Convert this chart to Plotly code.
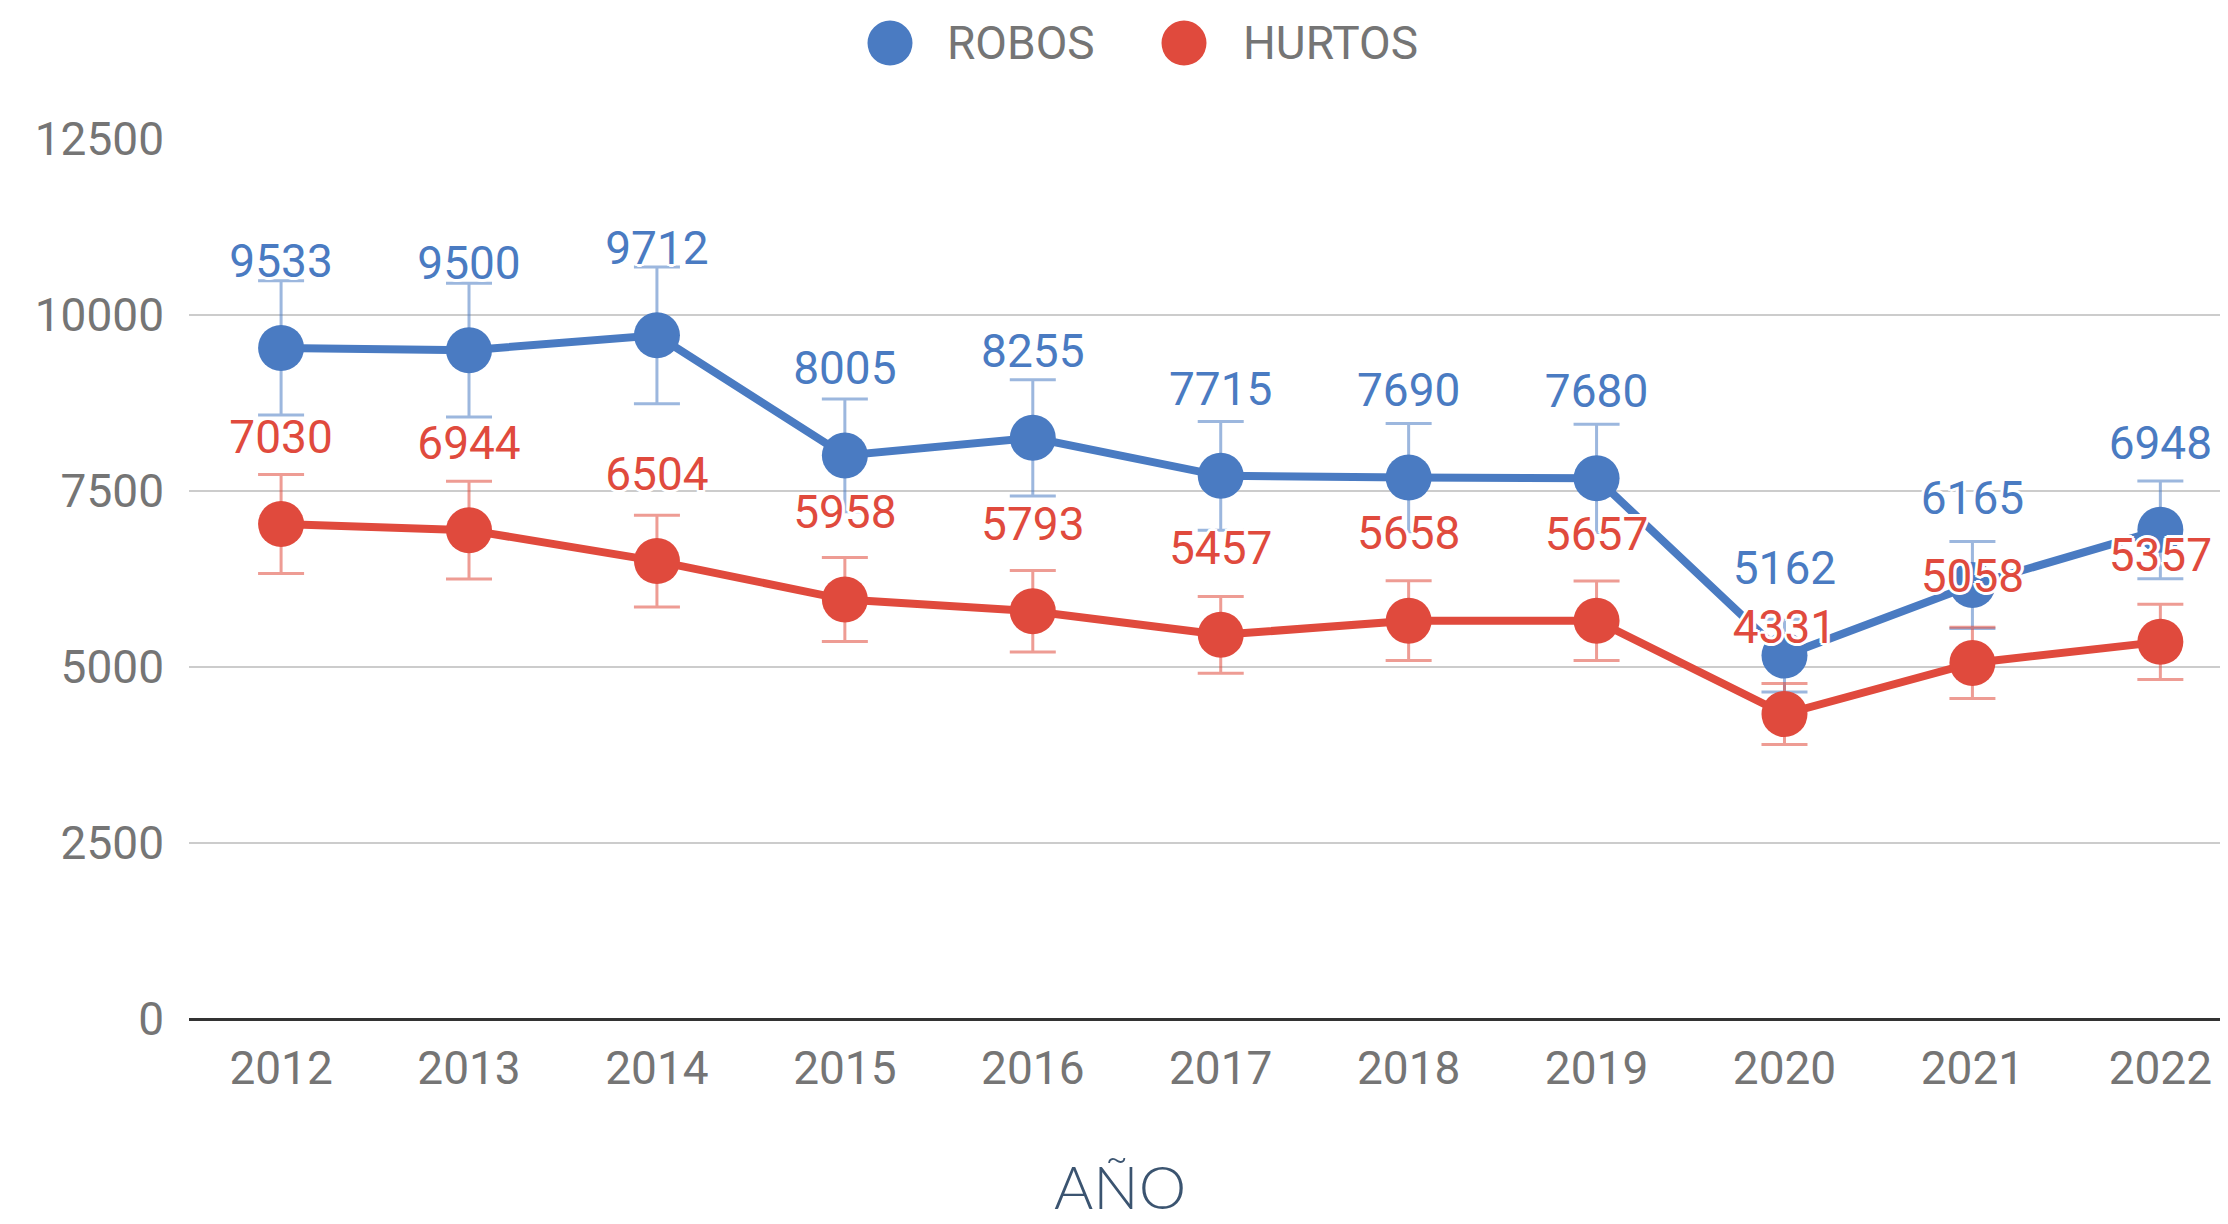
import plotly.graph_objects as go

years = ["2012", "2013", "2014", "2015", "2016", "2017", "2018", "2019", "2020", "2021", "2022"]
robos = [9533, 9500, 9712, 8005, 8255, 7715, 7690, 7680, 5162, 6165, 6948]
hurtos = [7030, 6944, 6504, 5958, 5793, 5457, 5658, 5657, 4331, 5058, 5357]
error_pct = 10
y_ticks = [0, 2500, 5000, 7500, 10000, 12500]

BLUE = "#4a7bc2"
RED = "#e04a3d"
BLUE_ERR = "rgba(74,123,194,0.55)"
RED_ERR = "rgba(224,74,61,0.55)"
GRAY = "#757575"
HALO = ("-2px -2px 0 #fff, 2px -2px 0 #fff, -2px 2px 0 #fff, 2px 2px 0 #fff, "
        "0 -3px 0 #fff, 0 3px 0 #fff, -3px 0 0 #fff, 3px 0 0 #fff")

fig = go.Figure()
for name, vals, col, ecol in [("ROBOS", robos, BLUE, BLUE_ERR), ("HURTOS", hurtos, RED, RED_ERR)]:
    fig.add_trace(go.Scatter(
        x=years, y=vals, name=name, mode="lines+markers",
        line=dict(color=col, width=8),
        marker=dict(color=col, size=46),
        error_y=dict(type="percent", value=error_pct, color=ecol, thickness=3, width=23),
        cliponaxis=False, showlegend=False,
    ))

# value labels (invisible spacer marker sets the label offset above the point)
for vals, col in [(robos, BLUE), (hurtos, RED)]:
    fig.add_trace(go.Scatter(
        x=years, y=vals,
        mode="markers+text", text=[str(v) for v in vals], textposition="top center",
        marker=dict(size=94, opacity=0, color=col),
        textfont=dict(family="Roboto", size=46, color=col, shadow=HALO),
        cliponaxis=False, showlegend=False, hoverinfo="skip",
    ))

# legend (drawn manually for large circular swatches)
W = 2039.0
def px(x):
    return (x - 189) / W
legend_y = 1.109
for cx, tx, col, label in [(890, 945, BLUE, "ROBOS"), (1184, 1241, RED, "HURTOS")]:
    fig.add_shape(type="circle", xref="paper", yref="paper",
                  xsizemode="pixel", ysizemode="pixel",
                  xanchor=px(cx), yanchor=legend_y,
                  x0=-22.5, x1=22.5, y0=-22.5, y1=22.5,
                  fillcolor=col, line=dict(width=0))
    fig.add_annotation(text=label, xref="paper", yref="paper", x=px(tx), y=legend_y,
                       xanchor="left", yanchor="middle", showarrow=False,
                       font=dict(family="Roboto", size=46, color=GRAY))

fig.add_annotation(text="AÑO", xref="paper", yref="paper", x=px(1120), y=-0.19,
                   xanchor="center", yanchor="middle", showarrow=False,
                   font=dict(family="Lato", size=60, color="#3b5470", weight=300))

fig.update_layout(
    width=2220, height=1216,
    margin=dict(l=181, r=0, t=131, b=205),
    paper_bgcolor="white", plot_bgcolor="white",
    showlegend=False,
    xaxis=dict(type="category", range=[-0.49, 10.36], showgrid=False,
               tickfont=dict(family="Roboto", size=46, color=GRAY),
               ticklabelstandoff=18, ticks=""),
    yaxis=dict(range=[0, 12500], tickvals=y_ticks, ticktext=[str(t) for t in y_ticks],
               showgrid=True, gridcolor="#cccccc", gridwidth=2,
               zeroline=True, zerolinecolor="#333333", zerolinewidth=3,
               tickfont=dict(family="Roboto", size=46, color=GRAY),
               ticklabelstandoff=24, ticks=""),
)

fig.write_html("out.html")
